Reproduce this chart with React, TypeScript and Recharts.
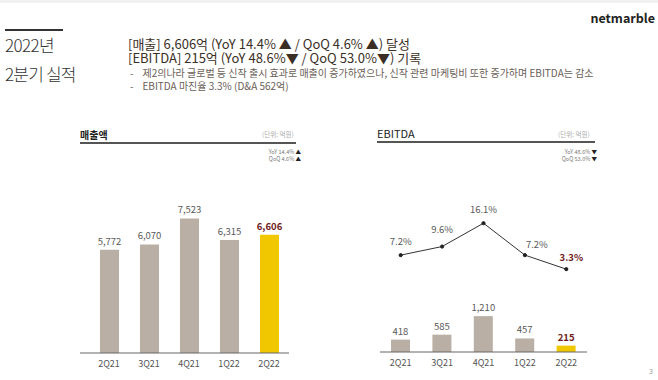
import React from 'react';
import { ComposedChart, Bar, Line, XAxis, YAxis, Cell } from 'recharts';

const quarters = ['2Q21', '3Q21', '4Q21', '1Q22', '2Q22'];
const revenue = [5772, 6070, 7523, 6315, 6606];
const ebitda = [418, 585, 1210, 457, 215];
const ebitdaMargin = [7.2, 9.6, 16.1, 7.2, 3.3];

const revenueData = quarters.map((q, i) => ({ q, v: revenue[i] }));
const ebitdaData = quarters.map((q, i) => ({ q, v: ebitda[i], m: ebitdaMargin[i] }));

const FONT = '"Noto Sans CJK KR", "Noto Sans", sans-serif';
const BAR = '#b9afa4';
const HIGHLIGHT = '#f1c700';
const RED = '#6e1c1c';
const LABEL = '#5a5a5a';
const lineLabelNudge = [
  { dx: 0, dy: -10 },
  { dx: 0, dy: -14 },
  { dx: 0, dy: -10 },
  { dx: 12, dy: -7 },
  { dx: 5, dy: -8 },
];

const fmt = (n: number) => n.toLocaleString('en-US');

const barLabel = (props: any) => {
  const { x, y, width, value, index } = props;
  const last = index === quarters.length - 1;
  return (
    <text
      x={Number(x) + Number(width) / 2}
      y={Number(y) - 5}
      textAnchor="middle"
      fontSize={9.5}
      fontFamily={FONT}
      fontWeight={last ? 700 : 400}
      fill={last ? RED : LABEL}
    >
      {fmt(Number(value))}
    </text>
  );
};

const lineLabel = (props: any) => {
  const { x, y, value, index } = props;
  const last = index === quarters.length - 1;
  const n = lineLabelNudge[index] || { dx: 0, dy: -10 };
  return (
    <text
      x={Number(x) + n.dx}
      y={Number(y) + n.dy}
      textAnchor="middle"
      fontSize={9.5}
      fontFamily={FONT}
      fontWeight={last ? 700 : 400}
      fill={last ? RED : LABEL}
    >
      {value.toFixed(1)}%
    </text>
  );
};

const abs = (left: number, top: number, extra: React.CSSProperties = {}): React.CSSProperties => ({
  position: 'absolute',
  left,
  top,
  whiteSpace: 'nowrap',
  fontFamily: FONT,
  lineHeight: 1,
  ...extra,
});

const tickStyle = { fontSize: 9, fill: '#555', fontFamily: FONT };

export default function App() {
  return (
    <div
      style={{
        position: 'fixed',
        left: 0,
        top: 0,
        width: 658,
        height: 380,
        background: '#fff',
        overflow: 'hidden',
        fontFamily: FONT,
      }}
    >
      <div style={{ position: 'absolute', left: 0, top: 0, width: 658, height: 3, background: '#f1f1f1' }} />
      <div style={{ position: 'absolute', left: 5, top: 29, width: 58, height: 1.5, background: '#333' }} />
      <div style={abs(5, 36, { fontSize: 17, color: '#333', fontWeight: 300, letterSpacing: -0.6 })}>2022년</div>
      <div style={abs(5, 65, { fontSize: 17, color: '#333', fontWeight: 300, letterSpacing: -0.8 })}>2분기 실적</div>

      <div style={abs(128, 37, { fontSize: 13, lineHeight: '13px', height: 13, color: '#3b2f25' })}>
        [매출] 6,606억 (YoY 14.4% ▲ / QoQ 4.6% ▲) 달성
      </div>
      <div style={abs(128, 51, { fontSize: 13, lineHeight: '13px', height: 13, color: '#3b2f25' })}>
        [EBITDA] 215억 (YoY 48.6%▼ / QoQ 53.0%▼) 기록
      </div>
      <div style={abs(130, 67, { fontSize: 10, lineHeight: '11px', height: 11, color: '#6b6058' })}>
        -&nbsp;&nbsp;&nbsp;&nbsp;제2의나라 글로벌 등 신작 출시 효과로 매출이 증가하였으나, 신작 관련 마케팅비 또한 증가하며 EBITDA는 감소
      </div>
      <div style={abs(130, 80, { fontSize: 10, lineHeight: '11px', height: 11, color: '#6b6058' })}>
        -&nbsp;&nbsp;&nbsp;&nbsp;EBITDA 마진율 3.3% (D&amp;A 562억)
      </div>
      <div style={abs(575, 12, { fontSize: 12.5, color: '#222', fontWeight: 700, width: 80, textAlign: 'right' })}>netmarble</div>

      {/* Left panel header */}
      <div style={abs(80, 130, { fontSize: 10, color: '#222', fontWeight: 700 })}>매출액</div>
      <div style={abs(262, 131, { fontSize: 6.5, color: '#aaa' })}>(단위: 억원)</div>
      <div style={{ position: 'absolute', left: 80, top: 142, width: 216, height: 1.5, background: '#555' }} />
      <div style={abs(250, 149, { fontSize: 5.5, lineHeight: '6px', height: 6, color: '#777', width: 51, textAlign: 'right' })}>
        YoY 14.4% <span style={{ color: '#222' }}>▲</span>
      </div>
      <div style={abs(250, 156, { fontSize: 5.5, lineHeight: '6px', height: 6, color: '#777', width: 51, textAlign: 'right' })}>
        QoQ 4.6% <span style={{ color: '#222' }}>▲</span>
      </div>

      {/* Right panel header */}
      <div style={abs(377, 128, { fontSize: 11, color: '#222' })}>EBITDA</div>
      <div style={abs(558, 131, { fontSize: 6.5, color: '#aaa' })}>(단위: 억원)</div>
      <div style={{ position: 'absolute', left: 377, top: 141, width: 218, height: 1.5, background: '#555' }} />
      <div style={abs(540, 149, { fontSize: 5.5, lineHeight: '6px', height: 6, color: '#777', width: 57, textAlign: 'right' })}>
        YoY 48.6% <span style={{ color: '#222' }}>▼</span>
      </div>
      <div style={abs(540, 156, { fontSize: 5.5, lineHeight: '6px', height: 6, color: '#777', width: 57, textAlign: 'right' })}>
        QoQ 53.0% <span style={{ color: '#222' }}>▼</span>
      </div>

      <div style={{ position: 'absolute', left: 70, top: 180 }}>
        <ComposedChart
          width={230}
          height={193}
          data={revenueData}
          margin={{ top: 12, right: 11, left: 10, bottom: 0 }}
        >
          <XAxis
            dataKey="q"
            tickLine={false}
            axisLine={{ stroke: '#666', strokeWidth: 1 }}
            tick={tickStyle}
            height={20}
            padding={{ left: 9, right: 0 }}
            interval={0}
          />
          <YAxis hide domain={[0, 9000]} />
          <Bar dataKey="v" barSize={19} isAnimationActive={false} label={barLabel}>
            {revenueData.map((d, i) => (
              <Cell key={d.q} fill={i === quarters.length - 1 ? HIGHLIGHT : BAR} />
            ))}
          </Bar>
        </ComposedChart>
      </div>

      <div style={{ position: 'absolute', left: 370, top: 180 }}>
        <ComposedChart
          width={227}
          height={192}
          data={ebitdaData}
          margin={{ top: 12, right: 10, left: 10, bottom: 0 }}
        >
          <XAxis
            dataKey="q"
            tickLine={false}
            axisLine={{ stroke: '#666', strokeWidth: 1 }}
            tick={tickStyle}
            height={20}
            interval={0}
          />
          <YAxis yAxisId="amt" hide domain={[0, 5400]} />
          <YAxis yAxisId="pct" hide domain={[-19.8, 24.8]} allowDataOverflow />
          <Bar yAxisId="amt" dataKey="v" barSize={19} isAnimationActive={false} label={barLabel}>
            {ebitdaData.map((d, i) => (
              <Cell key={d.q} fill={i === quarters.length - 1 ? HIGHLIGHT : BAR} />
            ))}
          </Bar>
          <Line
            yAxisId="pct"
            dataKey="m"
            stroke="#333"
            strokeWidth={1}
            dot={{ r: 1.6, fill: '#222', stroke: '#222' }}
            isAnimationActive={false}
            label={lineLabel}
          />
        </ComposedChart>
      </div>

      <div style={abs(649, 368, { fontSize: 7, color: '#999' })}>3</div>
    </div>
  );
}
